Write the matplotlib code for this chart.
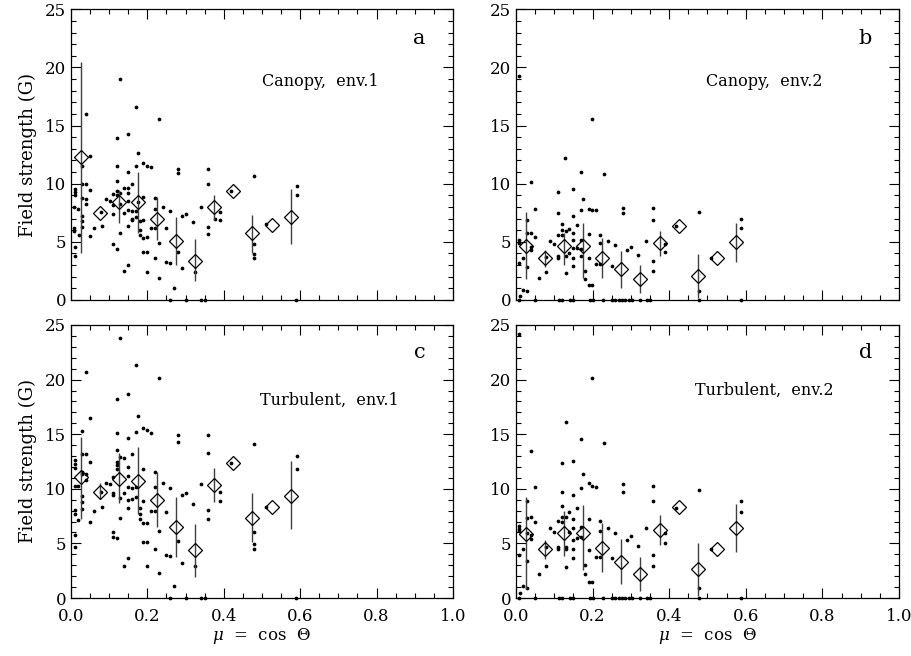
import numpy as np
import matplotlib
matplotlib.use('Agg')
import matplotlib.pyplot as plt
from matplotlib.ticker import MultipleLocator

plt.rcParams['font.family'] = 'DejaVu Serif'
plt.rcParams['mathtext.fontset'] = 'dejavuserif'

# bin centres of the averages (same for all panels)
mu_bin = [0.025, 0.075, 0.125, 0.175, 0.225, 0.275, 0.325, 0.375, 0.425, 0.475, 0.525, 0.575]

# panel a: canopy, env.1
mean_a = [12.26, 7.45, 8.4, 8.4, 6.96, 5.04, 3.38, 7.97, 9.34, 5.79, 6.45, 7.13]
hi_a = [20.5, None, 9.45, 11.0, 8.9, 7.1, 5.25, 9.0, None, 7.35, None, 9.54]
lo_a = [4.0, None, 6.65, 5.8, 5.15, 3.0, 1.6, 6.9, None, 4.05, None, 4.78]
dots_a = [
    (0.008, [7.97, 6.16, 5.96]), (0.010, [9.54, 9.26, 9.03, 4.58, 3.78]),
    (0.019, [7.82]), (0.020, [5.59]),
    (0.030, [11.5, 10.0, 8.8, 7.2, 6.8, 6.3]), (0.039, [16.0, 9.97, 8.65, 8.25]),
    (0.050, [12.4, 9.45, 5.5]), (0.060, [6.16]), (0.079, [7.56]), (0.080, [6.4]),
    (0.091, [8.65]), (0.101, [8.54]),
    (0.110, [9.1, 8.2, 7.4, 4.8]), (0.120, [13.9, 11.5, 10.2, 9.4, 9.0, 4.4]),
    (0.129, [19.0, 9.2, 8.25, 5.8]), (0.140, [9.66, 7.45, 2.49]),
    (0.149, [14.3, 11.0, 9.66, 9.17, 8.5, 7.74, 6.39, 3.0]),
    (0.160, [9.94, 7.68, 7.0, 6.88]), (0.169, [16.56, 11.52, 7.68, 7.1]),
    (0.175, [12.6, 8.45]), (0.180, [6.82, 6.02, 5.6]),
    (0.189, [11.75, 8.88, 6.88, 5.3, 4.15]), (0.200, [11.55, 5.39, 4.15, 2.44]),
    (0.209, [11.4, 6.22]), (0.220, [8.74, 7.8, 6.22, 3.64]),
    (0.230, [15.56, 4.87, 1.92]), (0.240, [8.02]), (0.250, [6.16, 3.24]),
    (0.260, [7.68, 3.15]), (0.270, [1.0]), (0.280, [11.3, 10.9, 4.15]),
    (0.291, [7.25, 2.72]), (0.300, [7.36]), (0.320, [6.68]), (0.326, [2.44]),
    (0.340, [7.97]), (0.360, [11.3, 10.0, 6.3, 5.64]), (0.376, [7.0]),
    (0.390, [7.53, 6.88]), (0.419, [9.34]), (0.480, [10.7, 4.78, 3.95, 3.64]),
    (0.510, [6.5]), (0.591, [9.83, 9.0]),
]
zero_a = [0.26, 0.30, 0.34, 0.35, 0.59]

# panel b: canopy, env.2
mean_b = [4.67, 3.58, 4.64, 4.64, 3.58, 2.64, 1.78, 4.87, 6.39, 2.06, 3.58, 4.96]
hi_b = [7.6, 4.3, 5.73, 6.6, 5.3, 4.24, 3.0, 5.93, None, 3.93, None, 6.6]
lo_b = [1.78, 2.87, 3.0, 1.86, 1.86, 1.0, 0.57, 3.81, None, 0.14, None, 3.3]
dots_b = [
    (0.009, [19.3, 5.2, 4.93, 3.15]), (0.010, [0.37]), (0.019, [3.58, 0.86]),
    (0.028, [6.88, 5.73, 2.87]), (0.030, [0.77]), (0.038, [10.17, 5.8, 4.58, 4.3]),
    (0.049, [7.8, 5.44]), (0.059, [1.86]), (0.078, [3.72, 2.44]), (0.089, [5.1]),
    (0.099, [4.78]), (0.109, [9.31, 7.45, 5.6, 3.81, 3.58]), (0.119, [6.53, 6.0, 5.6]),
    (0.128, [12.18]), (0.130, [5.93, 3.81, 2.35]), (0.139, [6.1, 4.0]),
    (0.150, [9.54, 7.22, 5.73, 5.16, 4.44, 3.64, 2.95]), (0.160, [6.45, 4.44]),
    (0.169, [10.97, 7.74, 5.16, 4.38, 3.81]), (0.174, [8.65]), (0.180, [2.52, 1.78]),
    (0.190, [7.8, 5.67, 3.58, 1.29]), (0.199, [15.56, 7.74, 1.29]), (0.209, [7.74, 3.07]),
    (0.219, [5.59, 4.87, 3.07]), (0.230, [10.8]), (0.239, [5.1]), (0.250, [2.95]),
    (0.259, [4.73]), (0.279, [7.94, 7.45]), (0.289, [4.3]), (0.299, [4.58]),
    (0.319, [3.87]), (0.339, [5.1]), (0.359, [7.88, 6.88, 3.35, 2.49]),
    (0.389, [4.78, 4.1]), (0.417, [6.39]), (0.479, [7.59, 0.77]), (0.508, [3.64]),
    (0.587, [6.96, 6.16]),
]
zero_b = [0.009, 0.050, 0.111, 0.119, 0.141, 0.150, 0.193, 0.202, 0.228, 0.250,
          0.259, 0.268, 0.276, 0.285, 0.294, 0.302, 0.324, 0.341, 0.350, 0.479, 0.587]

# panel c: turbulent, env.1
mean_c = [11.05, 9.68, 10.9, 10.71, 8.97, 6.47, 4.4, 10.35, 12.33, 7.36, 8.3, 9.37]
hi_c = [14.77, 10.5, 13.25, 13.86, 11.57, 9.22, 6.78, 11.87, None, 9.65, None, 12.58]
lo_c = [7.2, 9.07, 8.67, 7.69, 6.53, 3.79, 1.95, 8.82, None, 5.1, None, 6.29]
dots_c = [
    (0.010, [12.64, 12.27, 11.87, 10.29, 8.06, 7.69, 5.77, 4.7]), (0.019, [10.29, 7.14]),
    (0.030, [15.29, 13.19, 11.57, 11.4, 9.37, 8.82, 8.15]),
    (0.039, [20.73, 13.16, 11.32, 10.8]), (0.050, [16.45, 12.48, 7.0]), (0.060, [7.97]),
    (0.079, [9.74]), (0.080, [8.3]), (0.091, [10.5]), (0.101, [10.44]),
    (0.110, [11.11, 9.58, 9.43, 6.07, 5.56]),
    (0.120, [18.19, 15.14, 13.55, 12.48, 12.18, 11.81, 5.46]),
    (0.129, [23.78, 12.94, 9.19, 7.36]), (0.140, [12.79, 9.65, 2.96]),
    (0.149, [18.68, 14.68, 12.03, 11.2, 10.2, 8.97, 8.21, 3.69]),
    (0.160, [13.16, 10.04, 9.04]), (0.169, [21.34, 15.23, 10.13, 9.28]), (0.175, [16.67]),
    (0.180, [8.21, 7.69, 7.2]), (0.189, [15.54, 11.78, 8.91, 6.84, 5.16]),
    (0.200, [15.38, 6.84, 5.16, 2.96]), (0.209, [15.08, 7.97]),
    (0.220, [11.51, 10.2, 7.97, 4.49]), (0.230, [20.12, 6.14, 2.32]), (0.240, [10.5]),
    (0.250, [7.91, 3.94]), (0.260, [10.04, 3.85]), (0.270, [1.13]),
    (0.280, [14.93, 14.32, 5.25]), (0.291, [9.43, 3.24]), (0.300, [9.58]),
    (0.320, [8.58]), (0.326, [2.96]), (0.340, [10.41]),
    (0.360, [14.93, 13.25, 8.06, 7.2]), (0.390, [9.74, 8.88]), (0.419, [12.33]),
    (0.480, [14.1, 6.07, 4.91, 4.46]), (0.510, [8.36]), (0.591, [13.0, 11.81]),
]
zero_c = [0.26, 0.30, 0.34, 0.35, 0.59]

# panel d: turbulent, env.2
mean_d = [5.86, 4.46, 5.98, 5.98, 4.61, 3.33, 2.2, 6.23, 8.3, 2.66, 4.46, 6.38]
hi_d = [9.28, 5.31, 7.97, 8.52, 6.84, 5.37, 3.79, 7.6, None, 5.07, None, 8.58]
lo_d = [0.79, 3.54, 3.88, 2.56, 2.35, 1.25, 0.64, 4.85, None, 0.2, None, 4.24]
dots_d = [
    (0.009, [24.18, 6.59, 6.32, 6.17, 3.94]), (0.010, [0.43]), (0.019, [4.46, 1.1]),
    (0.028, [8.88, 7.3, 5.98, 3.42]), (0.030, [0.95]), (0.038, [13.46, 7.39, 5.77, 5.37]),
    (0.049, [10.2, 6.93]), (0.059, [2.2]), (0.078, [4.64, 2.96]), (0.089, [6.38]),
    (0.099, [6.07]), (0.109, [7.08, 4.7, 4.46]), (0.119, [12.33, 9.68, 8.42, 7.39, 6.99]),
    (0.130, [16.09, 7.45, 4.64, 4.49, 2.87]), (0.139, [7.85, 6.01]),
    (0.150, [12.58, 9.43, 7.2, 6.38, 5.31, 4.49, 3.63]), (0.160, [8.27, 5.53]),
    (0.169, [14.56, 10.04, 6.47, 5.56]), (0.174, [11.32]), (0.180, [3.02, 2.17]),
    (0.190, [10.5, 7.23, 4.4, 1.5]), (0.199, [20.18, 10.29, 1.5]), (0.209, [10.13, 3.79]),
    (0.219, [7.08, 6.14, 3.79]), (0.230, [14.22]), (0.239, [6.44]), (0.250, [3.63]),
    (0.259, [5.98]), (0.279, [10.41, 9.74]), (0.289, [5.31]), (0.299, [5.71]),
    (0.319, [4.79]), (0.339, [6.44]), (0.359, [10.29, 8.88, 3.94, 2.96]),
    (0.389, [5.92, 5.07]), (0.417, [8.27]), (0.479, [9.89, 0.89]), (0.508, [4.46]),
    (0.587, [8.91, 7.9]),
]
zero_d = zero_b

labels = ['Canopy,  env.1', 'Canopy,  env.2', 'Turbulent,  env.1', 'Turbulent,  env.2']
letters = ['a', 'b', 'c', 'd']


def panel(ax, dots, zeros, mean, lo, hi, label, letter, lab_xy):
    xs = [x for x, ys in dots for _ in ys]
    ys = [y for _, yy in dots for y in yy]
    ax.plot(xs, ys, 'o', color='black', ms=2.7, mew=0)
    ax.plot(zeros, np.zeros(len(zeros)), 'o', color='black', ms=2.7, mew=0, clip_on=False)
    for m, l, h in zip(mu_bin, lo, hi):
        if l is not None:
            ax.vlines(m, l, h, color='0.25', lw=1.0)
    ax.plot(mu_bin, mean, 'D', ms=7.5, mfc='none', mec='black', mew=0.9)
    ax.set_xlim(0, 1)
    ax.set_ylim(0, 25)
    ax.xaxis.set_major_locator(MultipleLocator(0.2))
    ax.xaxis.set_minor_locator(MultipleLocator(0.05))
    ax.yaxis.set_major_locator(MultipleLocator(5))
    ax.yaxis.set_minor_locator(MultipleLocator(1))
    ax.tick_params(which='both', direction='in', top=True, right=True, labelsize=12)
    ax.tick_params(which='major', length=7, width=0.8)
    ax.tick_params(which='minor', length=3.5, width=0.8)
    ax.tick_params(axis='x', pad=7)
    for s in ax.spines.values():
        s.set_linewidth(0.9)
    ax.text(lab_xy[0], lab_xy[1], label, transform=ax.transAxes, fontsize=11.5,
            va='center', ha='left')
    ax.text(0.912, 0.9, letter, transform=ax.transAxes, fontsize=15,
            va='center', ha='center')


fig = plt.figure(figsize=(9.11, 6.56), dpi=100)
ax_a = fig.add_axes([0.0779, 0.5427, 0.4193, 0.4431])
ax_b = fig.add_axes([0.5664, 0.5427, 0.4204, 0.4431])
ax_c = fig.add_axes([0.0779, 0.0884, 0.4193, 0.4162])
ax_d = fig.add_axes([0.5664, 0.0884, 0.4204, 0.4162])

panel(ax_a, dots_a, zero_a, mean_a, lo_a, hi_a, labels[0], letters[0], (0.5, 0.75))
panel(ax_b, dots_b, zero_b, mean_b, lo_b, hi_b, labels[1], letters[1], (0.495, 0.75))
panel(ax_c, dots_c, zero_c, mean_c, lo_c, hi_c, labels[2], letters[2], (0.495, 0.725))
panel(ax_d, dots_d, zero_d, mean_d, lo_d, hi_d, labels[3], letters[3], (0.467, 0.762))

for ax in (ax_a, ax_b):
    ax.tick_params(labelbottom=False)
for ax in (ax_c, ax_d):
    ax.set_xlabel(r'$\mu$  =  cos  $\Theta$', fontsize=12, labelpad=1)
for ax in (ax_a, ax_c):
    ax.set_ylabel('Field strength (G)', fontsize=13, labelpad=6)

fig.savefig('out.png', dpi=100)
